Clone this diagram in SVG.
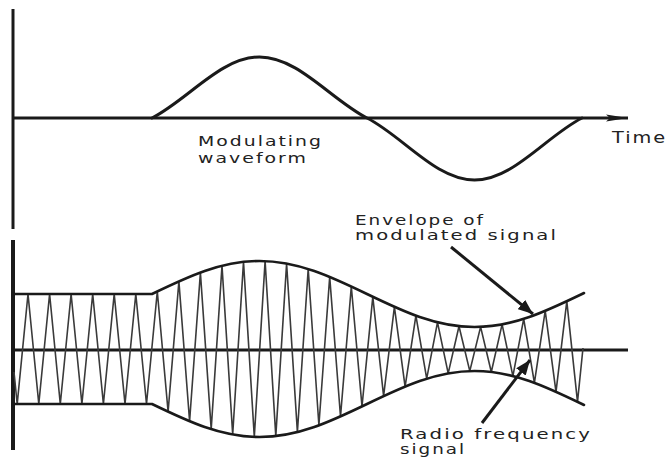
<svg xmlns="http://www.w3.org/2000/svg" width="669" height="458" viewBox="0 0 669 458">
<style>
.ax{stroke:#1a1a1a;stroke-width:3;fill:none}
.wave{stroke:#1a1a1a;stroke-width:3;fill:none;stroke-linecap:round}
.env{stroke:#1a1a1a;stroke-width:2.6;fill:none;stroke-linecap:round}
.car{stroke:#3a3a3a;stroke-width:1.6;fill:none;stroke-linejoin:miter}
.lbl{font-family:"DejaVu Sans","Liberation Sans",sans-serif;font-size:14px;letter-spacing:1.5px;fill:#222}
.ptr{stroke:#1a1a1a;stroke-width:3;fill:none}
</style>
<defs>
<marker id="dart" markerWidth="24" markerHeight="10" refX="22" refY="5" orient="auto" markerUnits="userSpaceOnUse">
<path d="M0,1.5 L22,5 L0,8.5 L4,5 Z" fill="#1a1a1a"/>
</marker>
<marker id="head" markerWidth="16" markerHeight="12" refX="15" refY="6" orient="auto" markerUnits="userSpaceOnUse">
<path d="M0,0 L15,6 L0,12 Z" fill="#1a1a1a"/>
</marker>
</defs>
<rect width="669" height="458" fill="#ffffff"/>

<g id="top-plot">
<line class="ax" x1="13" y1="9" x2="13" y2="229"/>
<line class="ax" x1="13" y1="118" x2="628" y2="118" marker-end="url(#dart)"/>
<path class="wave" d="M152,118 C187.94,99.7 220.75,57 259.5,57 C298.25,57 331.06,99.7 367,118 C402.94,136.3 435.75,180 474.5,180 C513.25,180 546.06,136.3 582,118"/>
<text class="lbl" x="198" y="146" textLength="125" lengthAdjust="spacingAndGlyphs">Modulating</text>
<text class="lbl" x="198" y="163" textLength="110" lengthAdjust="spacingAndGlyphs">waveform</text>
<text class="lbl" x="612" y="143" textLength="55" lengthAdjust="spacingAndGlyphs" style="font-size:15px">Time</text>
</g>

<g id="bottom-plot">
<line class="ax" x1="13" y1="240" x2="13" y2="450" style="stroke-width:4"/>
<line class="ax" x1="13" y1="350" x2="628" y2="350"/>
<polyline class="car" points="14,372 17.2,404 28,294 38.8,404 49.6,294 60.3,404 71.1,294 81.9,404 92.7,294 103.4,404 114.2,294 125,404 135.8,294 146.5,404 157.3,291.5 168.1,411.7 178.9,281.4 189.6,421.2 200.4,272.6 211.2,429.1 222,265.9 232.7,434.5 243.5,261.9 254.3,436.9 265.1,261.1 275.8,436.1 286.6,263.6 297.4,432.1 308.2,269 318.9,425.3 329.7,276.9 340.5,416.5 351.3,286.5 362,406.4 372.8,296.8 383.6,396.1 394.4,306.8 405.1,386.6 415.9,315.6 426.7,378.7 437.5,322.3 448.2,373.4 459,326.2 469.8,371.1 480.6,326.9 491.3,372 502.1,324.4 512.9,376.1 523.7,318.9 534.4,382.9 545.2,310.9 556,391.8 566.8,301.3 577.5,401.8 583,348"/>
<path id="env-top" class="env" d="M13,294 H152 C187.94,276.67 220.75,261 259.5,261 C298.25,261 331.06,276.67 367,294 C402.94,311.33 435.75,327 474.5,327 C513.25,327 546.06,311.33 582,294 L584,293"/>
<path id="env-bottom" class="env" d="M13,404 H152 C187.94,421.33 220.75,437 259.5,437 C298.25,437 331.06,421.33 367,404 C402.94,386.67 435.75,371 474.5,371 C513.25,371 546.06,386.67 582,404 L584,405"/>
</g>

<g id="label-envelope">
<text class="lbl" x="355" y="225" textLength="130" lengthAdjust="spacingAndGlyphs">Envelope of</text>
<text class="lbl" x="355" y="240" textLength="203" lengthAdjust="spacingAndGlyphs">modulated signal</text>
</g>

<g id="label-rf">
<text class="lbl" x="400" y="439" textLength="192" lengthAdjust="spacingAndGlyphs">Radio frequency</text>
<text class="lbl" x="400" y="454" textLength="66" lengthAdjust="spacingAndGlyphs">signal</text>
</g>

<g id="connectors">
<line class="ptr" x1="451" y1="247" x2="533" y2="314" marker-end="url(#head)"/>
<line class="ptr" x1="482" y1="423" x2="530" y2="360" marker-end="url(#head)"/>
</g>
</svg>
